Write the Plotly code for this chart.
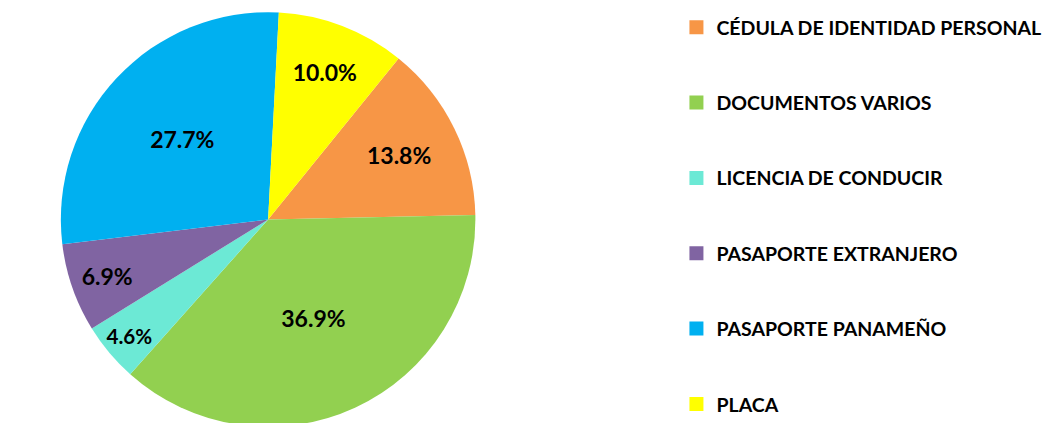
import plotly.graph_objects as go

labels = ["CÉDULA DE IDENTIDAD PERSONAL", "DOCUMENTOS VARIOS", "LICENCIA DE CONDUCIR",
          "PASAPORTE EXTRANJERO", "PASAPORTE PANAMEÑO", "PLACA"]
values = [13.8, 36.9, 4.6, 6.9, 27.7, 10.0]
colors = ["#F79646", "#92D050", "#6CE9D5", "#8064A2", "#00B0F0", "#FFFF00"]

FONT = "Lato"

fig = go.Figure()
fig.add_trace(go.Pie(
    labels=labels, values=values, sort=False, direction="clockwise", rotation=39,
    marker=dict(colors=colors, line=dict(width=0)),
    text=[f"{v:.1f}%" for v in values], textinfo="text", textposition="inside",
    insidetextorientation="horizontal",
    textfont=dict(family=FONT, size=23, color="black", weight="bold"),
    domain=dict(x=[0.05, 0.445], y=[0.01, 0.99]),
    showlegend=False, hoverinfo="label+percent",
))
for lab, col in zip(labels, colors):
    fig.add_trace(go.Scatter(
        x=[None], y=[None], mode="markers", name=lab, legendgroup=lab,
        marker=dict(symbol="square", size=14, color=col),
    ))

fig.update_layout(
    width=1051, height=423, margin=dict(l=0, r=0, t=0, b=0),
    paper_bgcolor="white", plot_bgcolor="white",
    xaxis=dict(visible=False), yaxis=dict(visible=False),
    legend=dict(x=0.636, y=1.0, xanchor="left", yanchor="top", tracegroupgap=47,
                itemwidth=30, font=dict(family=FONT, size=19.5, color="black", weight="bold")),
)
fig.write_html("out.html")
